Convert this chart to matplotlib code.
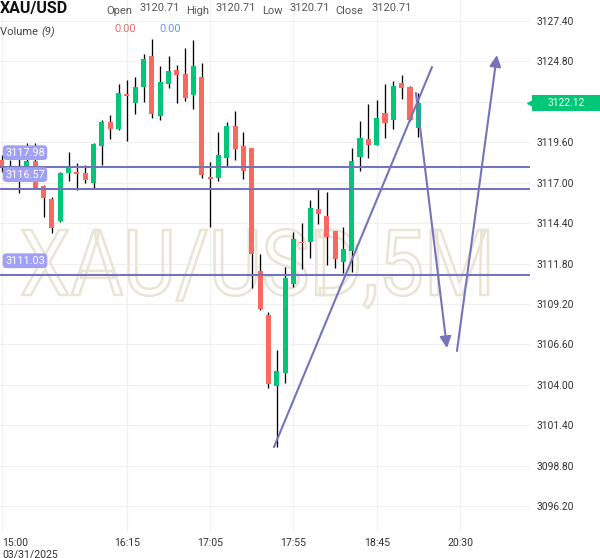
import matplotlib

matplotlib.use("Agg")
import matplotlib.pyplot as plt
import matplotlib.transforms as mtransforms
from matplotlib.font_manager import FontProperties
from matplotlib.patches import PathPatch, Rectangle
from matplotlib.textpath import TextPath

plt.rcParams["font.family"] = ["Roboto", "DejaVu Sans"]

# 5-minute XAU/USD candles
opens = [3118.46, 3117.75, 3118.01, 3117.94, 3118.39, 3116.79, 3115.95, 3114.55, 3117.64, 3117.69,
         3117.62, 3116.98, 3119.38, 3120.88, 3120.43, 3122.70, 3122.14, 3123.17, 3125.15, 3121.31,
         3123.37, 3124.25, 3124.01, 3122.66, 3123.80, 3117.38, 3117.32, 3118.61, 3120.65, 3119.36,
         3119.23, 3111.32, 3108.49, 3103.94, 3104.76, 3110.48, 3113.20, 3113.20, 3115.31, 3114.86,
         3113.89, 3111.92, 3112.62, 3118.67, 3119.79, 3119.44, 3121.50, 3121.03, 3123.41, 3123.15,
         3120.54]
highs = [3118.78, 3118.46, 3119.10, 3119.55, 3119.55, 3116.85, 3116.08, 3117.71, 3118.97, 3118.27,
         3118.14, 3119.57, 3121.03, 3121.33, 3123.35, 3123.60, 3123.80, 3125.28, 3126.22, 3124.49,
         3125.15, 3124.57, 3125.64, 3126.16, 3124.68, 3118.31, 3120.24, 3120.88, 3121.63, 3120.24,
         3119.26, 3112.39, 3108.66, 3106.24, 3111.59, 3113.83, 3114.39, 3115.88, 3116.59, 3116.38,
         3113.92, 3114.13, 3119.21, 3120.97, 3122.04, 3122.30, 3123.35, 3123.52, 3123.93, 3123.24,
         3122.77]
lows = [3117.69, 3117.11, 3116.34, 3117.88, 3116.59, 3114.79, 3113.76, 3114.47, 3117.11, 3116.53,
        3116.98, 3116.57, 3118.12, 3119.79, 3120.42, 3119.68, 3121.40, 3122.21, 3121.14, 3121.05,
        3123.07, 3122.14, 3122.27, 3121.72, 3117.30, 3114.13, 3117.13, 3118.09, 3118.46, 3117.22,
        3110.20, 3108.81, 3103.77, 3100.01, 3104.09, 3110.29, 3111.43, 3112.13, 3114.32, 3111.70,
        3111.53, 3111.17, 3111.27, 3117.77, 3118.57, 3119.40, 3119.85, 3120.47, 3122.36, 3120.97,
        3119.96]
closes = [3117.94, 3117.43, 3117.85, 3118.39, 3116.66, 3116.01, 3114.08, 3117.60, 3117.94, 3117.56,
          3117.17, 3119.49, 3120.90, 3120.47, 3122.77, 3122.59, 3123.15, 3124.96, 3121.44, 3123.48,
          3124.18, 3123.95, 3122.47, 3124.52, 3117.51, 3117.22, 3118.78, 3120.65, 3119.18, 3117.77,
          3112.39, 3108.87, 3104.05, 3104.88, 3110.89, 3113.36, 3113.10, 3115.37, 3115.00, 3113.52,
          3112.07, 3112.73, 3118.39, 3119.85, 3119.44, 3121.16, 3120.86, 3123.22, 3123.11, 3121.03,
          3122.12]

time_tick_pos = [0, 15, 25, 35, 45, 55]
time_tick_labels = ["15:00\n03/31/2025", "16:15", "17:05", "17:55", "18:45", "20:30"]
price_ticks = [3096.20, 3098.80, 3101.40, 3104.00, 3106.60, 3109.20, 3111.80,
               3114.40, 3117.00, 3119.60, 3122.20, 3124.80, 3127.40]
hidden_tick = 3122.20  # sits under the last-price tag

# drawn levels and arrows (bar index, price)
levels = [3117.98, 3116.57, 3111.03]
trend_x = [32.66, 51.63]
trend_y = [3099.99, 3124.44]
arrow_down = [(49.7, 3122.77), (53.43, 3106.36)]
arrow_up = [(54.63, 3106.17), (59.43, 3125.21)]

GREEN = "#00c777"
RED = "#fa695f"
LINE = "#7674b8"
TAG = "#a0a0f5"

fig = plt.figure(figsize=(6.0, 5.58), dpi=100)
ax = fig.add_axes([0.0, 1 - 532 / 558, 530 / 600, 532 / 558])
ax.set_xlim(-0.23, 63.4)
ax.set_ylim(3094.53, 3128.75)
for s in ax.spines.values():
    s.set_visible(False)

ax.set_axisbelow(True)
ax.grid(True, color="#f0f0f0", linewidth=0.9)
ax.yaxis.tick_right()
ax.set_yticks(price_ticks)
ax.set_yticklabels(["" if v == hidden_tick else f"{v:.2f}" for v in price_ticks])
ax.tick_params(axis="y", length=0, pad=5, labelsize=7.4, labelcolor="#333333")
ax.set_xticks(time_tick_pos)
ax.set_xticklabels(time_tick_labels)
ax.tick_params(axis="x", length=0, pad=4, labelsize=7.6, labelcolor="#333333")
first = ax.get_xticklabels()[0]
first.set_ha("left")
first.set_multialignment("left")

# watermark
wm_font = FontProperties(family="Roboto")
tp = TextPath((0, 0), "XAU/USD,5M", size=100, prop=wm_font)
cap = TextPath((0, 0), "X", size=100, prop=wm_font).get_extents().height
ext = tp.get_extents()
sx = 466 / ext.width / 600
sy = 65 / cap / 558
wm_tr = mtransforms.Affine2D().translate(-ext.x0, 0).scale(sx, sy).translate(22 / 600, 1 - 295 / 558) + fig.transFigure
ax.add_patch(PathPatch(tp, transform=wm_tr, facecolor="none", edgecolor="#e9e4d6",
                       linewidth=1.8, zorder=1, clip_on=False))

# candles
idx = list(range(len(closes)))
colors = [GREEN if c >= o else RED for o, c in zip(opens, closes)]
ax.vlines(idx, lows, highs, color="black", linewidth=0.95, zorder=2)
bottoms = [min(o, c) for o, c in zip(opens, closes)]
heights = [max(abs(c - o), 0.1) for o, c in zip(opens, closes)]
ax.bar(idx, heights, bottom=bottoms, width=0.62, color=colors, linewidth=0, zorder=2.5)

# horizontal levels with tags
lab_tr = mtransforms.blended_transform_factory(ax.transAxes, ax.transData)
for lv in levels:
    ax.axhline(lv, color=LINE, linewidth=1.5, zorder=3)
    ax.text(25 / 530, lv + 0.95, f"{lv:.2f}", transform=lab_tr, ha="center", va="center",
            fontsize=7.8, color="white", zorder=4,
            bbox=dict(boxstyle="round,pad=0.22,rounding_size=0.35", fc=TAG, ec="none"))

# trend line and arrows
ax.plot(trend_x, trend_y, color=LINE, linewidth=1.5, zorder=3, solid_capstyle="round")
for (x0, y0), (x1, y1) in (arrow_down, arrow_up):
    ax.annotate("", xy=(x1, y1), xytext=(x0, y0),
                arrowprops=dict(arrowstyle="-|>", color=LINE, lw=1.5, mutation_scale=17,
                                shrinkA=0, shrinkB=0), zorder=3, annotation_clip=False)

# last price tag
last = closes[-1]
ax.add_patch(Rectangle((532 / 530, last - 0.52), 68 / 530, 1.04, transform=lab_tr,
                       facecolor=GREEN, edgecolor="none", clip_on=False, zorder=5))
ax.plot([1.0], [last], marker="<", markersize=5, color=GREEN, transform=lab_tr,
        clip_on=False, zorder=5)
ax.text(566 / 530, last, f"{last:.2f}", transform=lab_tr, ha="center", va="center",
        fontsize=7.4, color="white", zorder=6, clip_on=False)


def px(x, y):
    return x / 600, 1 - y / 558


fig.text(*px(0, 13.5), "XAU/USD", fontsize=11.5, fontweight="bold", color="#111111", va="baseline")
ohlc = [("Open", 106, 139), ("High", 186, 216), ("Low", 262, 289), ("Close", 335, 371)]
for name, lx, vx in ohlc:
    fig.text(*px(lx, 14), name, fontsize=8, color="#555555", va="baseline")
    fig.text(*px(vx, 10.7), "3120.71", fontsize=8, color="#555555", va="baseline")
fig.text(*px(0, 35), "Volume ", fontsize=8, color="#444444", va="baseline")
fig.text(*px(41, 35), "(9)", fontsize=8, color="#444444", style="italic", va="baseline")
fig.text(*px(114, 32.5), "0.00", fontsize=8, color="#e07070", va="baseline")
fig.text(*px(159, 32.5), "0.00", fontsize=8, color="#5b9cf4", va="baseline")

fig.savefig("out.png", dpi=100)
